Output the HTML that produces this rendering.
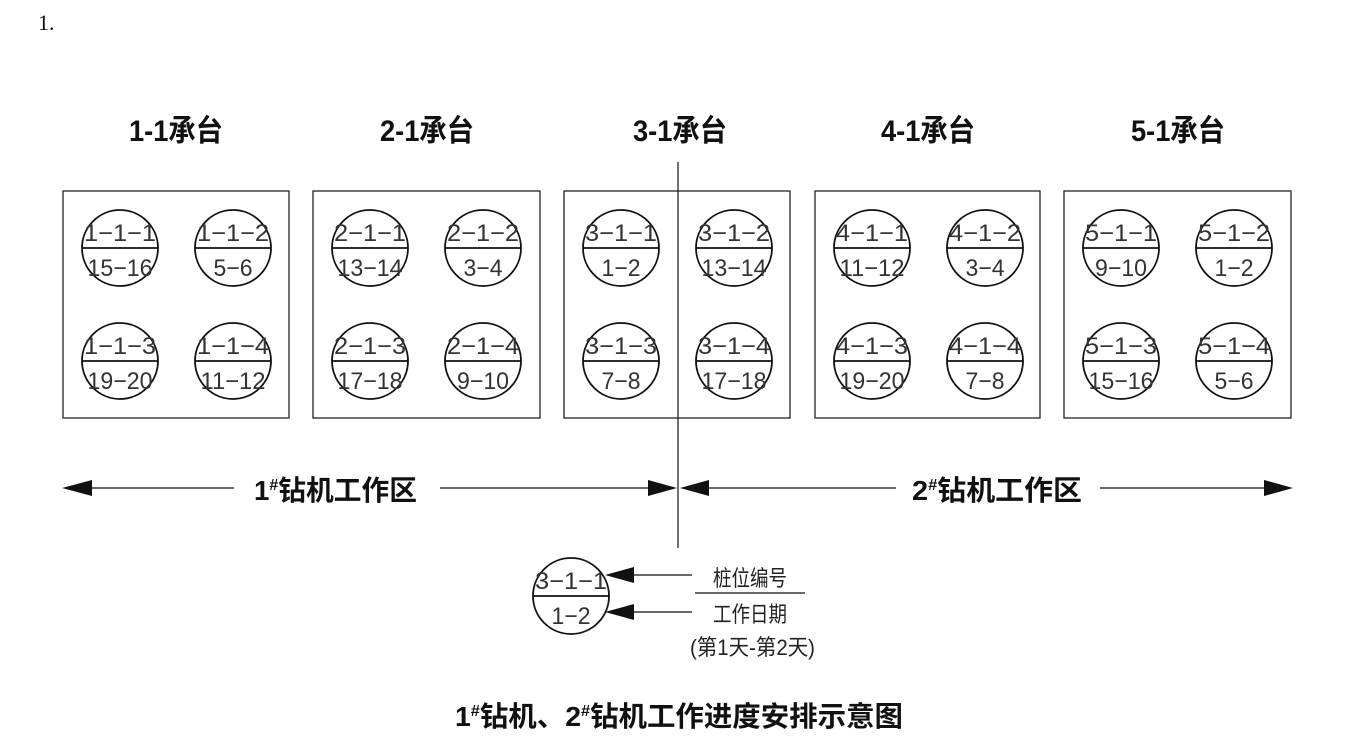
<!DOCTYPE html>
<html><head><meta charset="utf-8"><style>
html,body{margin:0;padding:0;background:#fff;}
svg{display:block}
.t{font-family:"Liberation Sans","Noto Sans CJK SC",sans-serif;font-weight:bold;fill:#111}
.n{font-family:"Liberation Sans",sans-serif;fill:#333;font-size:24px}
.c{font-family:"Liberation Sans","Noto Sans CJK SC",sans-serif;fill:#222}
</style></head><body>
<svg width="1356" height="751" viewBox="0 0 1356 751" xmlns="http://www.w3.org/2000/svg">
<text x="38" y="30" font-family="Liberation Serif,serif" font-size="22" fill="#111">1.</text>
<g stroke="#222" stroke-width="1.3" fill="none">
<rect x="63" y="191" width="226" height="227"/>
<rect x="313" y="191" width="227" height="227"/>
<rect x="564" y="191" width="226" height="227"/>
<rect x="815" y="191" width="225" height="227"/>
<rect x="1064" y="191" width="227" height="227"/>
<line x1="678" y1="162" x2="678" y2="548"/>
</g>
<g class="t" font-size="30" text-anchor="middle">
<text x="176" y="141" textLength="94" lengthAdjust="spacingAndGlyphs">1-1承台</text>
<text x="427" y="141" textLength="94" lengthAdjust="spacingAndGlyphs">2-1承台</text>
<text x="680" y="141" textLength="94" lengthAdjust="spacingAndGlyphs">3-1承台</text>
<text x="928" y="141" textLength="94" lengthAdjust="spacingAndGlyphs">4-1承台</text>
<text x="1178" y="141" textLength="94" lengthAdjust="spacingAndGlyphs">5-1承台</text>
</g>
<g stroke="#111" stroke-width="1.8" fill="none" id="cg"></g>
<g class="n" text-anchor="middle" id="ng"></g>
<g stroke="#111" stroke-width="1.3">
<line x1="90" y1="488" x2="234" y2="488"/>
<line x1="440" y1="488" x2="650" y2="488"/>
<line x1="706" y1="488" x2="896" y2="488"/>
<line x1="1100" y1="488" x2="1266" y2="488"/>
<line x1="630" y1="575" x2="692" y2="575"/>
<line x1="630" y1="612" x2="692" y2="612"/>
<line x1="695" y1="593" x2="805" y2="593"/>
</g>
<g fill="#111">
<polygon points="62,488 92,480 92,496"/>
<polygon points="677,488 648,480 648,496"/>
<polygon points="680,488 709,480 709,496"/>
<polygon points="1293,488 1264,480 1264,496"/>
<polygon points="605,575 634,567 634,583"/>
<polygon points="605,612 634,604 634,620"/>
</g>
<g class="t" font-size="28">
<text x="254" y="500" textLength="163" lengthAdjust="spacingAndGlyphs">1<tspan font-size="16" dy="-10">#</tspan><tspan dy="10">钻机工作区</tspan></text>
<text x="912" y="500" textLength="170" lengthAdjust="spacingAndGlyphs">2<tspan font-size="16" dy="-10">#</tspan><tspan dy="10">钻机工作区</tspan></text>
<text x="455" y="726" textLength="448" lengthAdjust="spacingAndGlyphs">1<tspan font-size="16" dy="-10">#</tspan><tspan dy="10">钻机、2</tspan><tspan font-size="16" dy="-10">#</tspan><tspan dy="10">钻机工作进度安排示意图</tspan></text>
</g>
<g class="c" font-size="22">
<text x="713" y="586" textLength="74" lengthAdjust="spacingAndGlyphs">桩位编号</text>
<text x="713" y="622" textLength="74" lengthAdjust="spacingAndGlyphs">工作日期</text>
<text x="690" y="655" textLength="125" lengthAdjust="spacingAndGlyphs">(第1天-第2天)</text>
</g>
</svg>
<script>
const boxes=[63,313,564,815,1064];
const data=[
[["1-1-1","15-16"],["1-1-2","5-6"],["1-1-3","19-20"],["1-1-4","11-12"]],
[["2-1-1","13-14"],["2-1-2","3-4"],["2-1-3","17-18"],["2-1-4","9-10"]],
[["3-1-1","1-2"],["3-1-2","13-14"],["3-1-3","7-8"],["3-1-4","17-18"]],
[["4-1-1","11-12"],["4-1-2","3-4"],["4-1-3","19-20"],["4-1-4","7-8"]],
[["5-1-1","9-10"],["5-1-2","1-2"],["5-1-3","15-16"],["5-1-4","5-6"]]];
const cg=document.getElementById('cg'),ng=document.getElementById('ng');
let cs='',ns='';
function circ(cx,cy,a,b){
cs+=`<ellipse cx="${cx}" cy="${cy}" rx="38" ry="38"/><line x1="${cx-38}" y1="${cy}" x2="${cx+38}" y2="${cy}"/>`;
ns+=`<text x="${cx}" y="${cy-7}" textLength="72" lengthAdjust="spacingAndGlyphs">${a.replace(/-/g,'−')}</text><text x="${cx}" y="${cy+28}" textLength="${b.length*13}" lengthAdjust="spacingAndGlyphs">${b.replace(/-/g,'−')}</text>`;
}
boxes.forEach((bx,i)=>{
const p=[[57,248],[170,248],[57,361],[170,361]];
p.forEach((q,j)=>circ(bx+q[0],q[1],data[i][j][0],data[i][j][1]));
});
circ(571,596,"3-1-1","1-2");
cg.innerHTML=cs;ng.innerHTML=ns;
</script>
</body></html>
